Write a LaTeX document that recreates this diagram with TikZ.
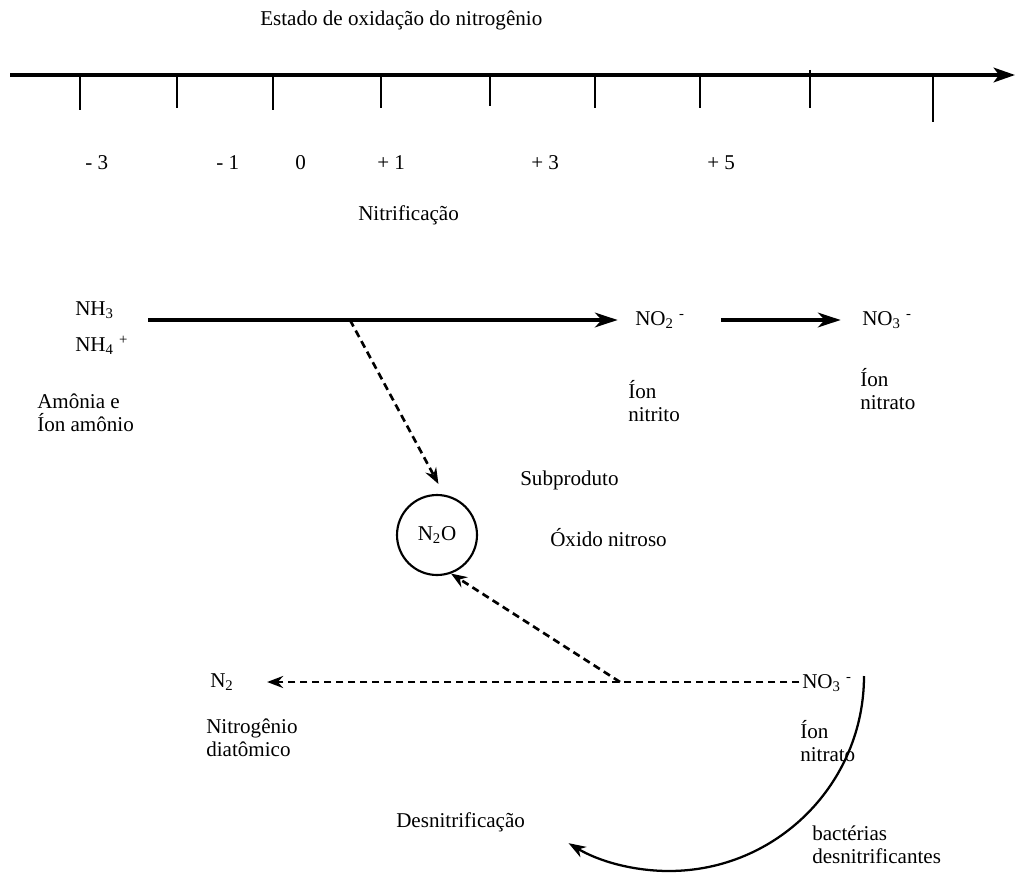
\documentclass[tikz,border=0pt]{standalone}
\usepackage{fontspec}
\setmainfont{Liberation Serif}
\usetikzlibrary{arrows.meta}

\begin{document}
\begin{tikzpicture}[
        x=0.75pt, y=-0.75pt,
        every node/.style={
            font=\fontsize{15.8}{17}\selectfont
        },
        textNode/.style={
            anchor=west,
            inner sep=0pt,
            align=left
        },
        speciesNode/.style={
            anchor=west,
            inner sep=0pt
        },
        moleculeNode/.style={
            circle,
            draw,
            line width=1.6pt,
            minimum size=60pt,
            inner sep=0pt
        },
        axisLine/.style={
            line width=2.6pt,
            -{Stealth[length=16pt,width=11pt,inset=4pt]}
        },
        tickLine/.style={
            line width=1.8pt
        },
        reaction/.style={
            line width=2.4pt,
            -{Stealth[length=17pt,width=11pt,inset=5pt]}
        },
        sideReaction/.style={
            line width=2pt,
            dash pattern=on 5.5pt off 3.5pt,
            -{Stealth[length=12pt,width=9pt,inset=4pt]}
        },
        returnArc/.style={
            line width=1.7pt,
            -{Stealth[length=13pt,width=9pt,inset=4pt]}
        }
    ]
        \useasboundingbox (0,0) rectangle (1017,874);

        \node[textNode] (title) at (260,20) {Estado de oxidação do nitrogênio};

        \coordinate (axisStart) at (10,75);
        \coordinate (axisEnd) at (1015,75);
        \draw[axisLine] (axisStart) -- (axisEnd);

        \draw[tickLine] (80,75) -- (80,110);
        \draw[tickLine] (177,75) -- (177,108);
        \draw[tickLine] (273,75) -- (273,110);
        \draw[tickLine] (381,75) -- (381,108);
        \draw[tickLine] (490,75) -- (490,106);
        \draw[tickLine] (595,75) -- (595,108);
        \draw[tickLine] (700,75) -- (700,108);
        \draw[tickLine] (810,70) -- (810,108);
        \draw[tickLine] (933,75) -- (933,122);

        \node[textNode] (minusThree) at (85,163) {- 3};
        \node[textNode] (minusOne) at (216,163) {- 1};
        \node[textNode] (zero) at (295,163) {0};
        \node[textNode] (plusOne) at (377,163) {+ 1};
        \node[textNode] (plusThree) at (531,163) {+ 3};
        \node[textNode] (plusFive) at (707,163) {+ 5};

        \node[textNode] (nitrificacao) at (358,215) {Nitrificação};

        \node[speciesNode] (nh3) at (75,310) {NH\textsubscript{3}};
        \node[speciesNode] (nh4) at (75,345) {NH\textsubscript{4}~\textsuperscript{+}};
        \node[textNode] (amonia) at (37,413) {Amônia e\\Íon amônio};

        \node[speciesNode] (no2) at (635,320) {NO\textsubscript{2}~\textsuperscript{-}};
        \node[speciesNode] (no3) at (862,320) {NO\textsubscript{3}~\textsuperscript{-}};
        \node[textNode] (nitrito) at (628,401) {Íon\\nitrito};
        \node[textNode] (nitrato) at (860,389) {Íon\\nitrato};

        \coordinate (nitStart) at (148,320);
        \coordinate (branchUp) at (350,320);
        \draw[reaction, shorten >=13pt] (nitStart) -- (nitStart -| no2.west);
        \draw[reaction, shorten <=27pt, shorten >=16pt] (no2.east |- nitStart) -- (nitStart -| no3.west);

        \node[moleculeNode] (n2o) at (437,535) {N\textsubscript{2}O};
        \node[textNode] (subproduto) at (520,480) {Subproduto};
        \node[textNode] (oxido) at (550,538) {Óxido nitroso};

        \draw[sideReaction, shorten >=9pt] (branchUp) -- (n2o.80);

        \node[speciesNode] (n2) at (210,682) {N\textsubscript{2}};
        \node[textNode] (diatomico) at (206,738) {Nitrogênio\\diatômico};
        \node[speciesNode] (no3low) at (802,683) {NO\textsubscript{3}~\textsuperscript{-}};
        \node[textNode] (nitratoLow) at (800,741) {Íon\\nitrato};

        \coordinate (branchLow) at (620,682);
        \draw[sideReaction, shorten <=2pt, shorten >=25pt] (no3low.west |- branchLow) -- (n2.east |- branchLow);
        \draw[sideReaction] (branchLow) -- (n2o.-70);

        \coordinate (arcStart) at (864,676);
        \draw[returnArc] (arcStart) arc[start angle=0, end angle=121, radius=195];

        \node[textNode] (desnitrificacao) at (396,822) {Desnitrificação};
        \node[textNode] (bacterias) at (812,845) {bactérias\\desnitrificantes};
    \end{tikzpicture}
\end{document}
